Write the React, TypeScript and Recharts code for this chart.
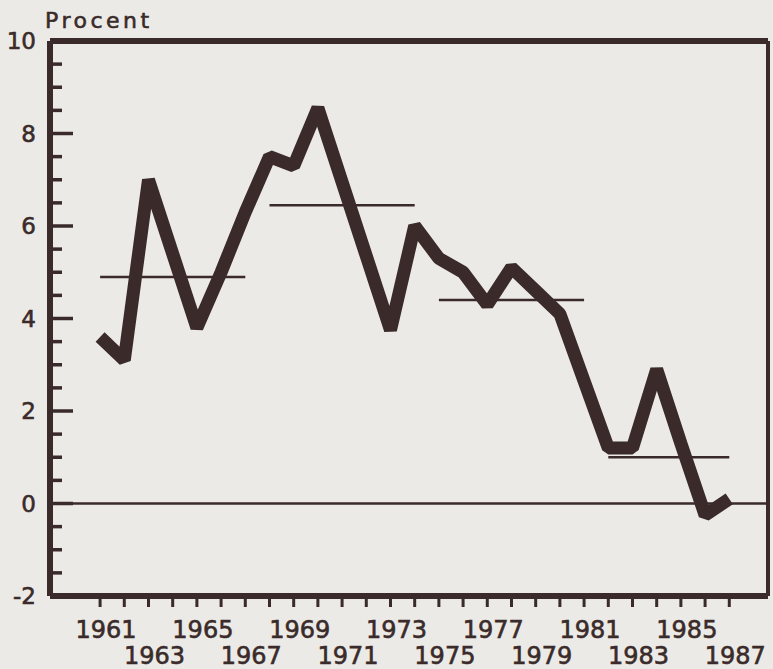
import { LineChart, Line, XAxis, YAxis, ReferenceLine } from 'recharts';

// Arbetslöshet / tillväxt i procent, 1961–1987
const YEARS = [
  1961, 1962, 1963, 1964, 1965, 1966, 1967, 1968, 1969, 1970, 1971, 1972, 1973, 1974,
  1975, 1976, 1977, 1978, 1979, 1980, 1981, 1982, 1983, 1984, 1985, 1986, 1987,
];
const RATE = [
  3.6, 3.1, 7.0, 5.4, 3.8, 5.0, 6.3, 7.5, 7.3, 8.55, 6.95, 5.35, 3.75, 6.0,
  5.3, 5.0, 4.3, 5.1, 4.6, 4.1, 2.65, 1.2, 1.2, 2.9, 1.3, -0.25, 0.1,
];

// period averages (thin horizontal lines)
const PERIOD_START = [1961, 1968, 1975, 1982];
const PERIOD_END = [1967, 1974, 1981, 1987];
const PERIOD_MEAN = [4.9, 6.45, 4.4, 1.0];

const Y_TICKS = [
  -2, -1.5, -1, -0.5, 0, 0.5, 1, 1.5, 2, 2.5, 3, 3.5, 4, 4.5, 5, 5.5,
  6, 6.5, 7, 7.5, 8, 8.5, 9, 9.5, 10,
];

const INK = '#3a2b2a';
const BG = '#ebeae6';
const FONT = '"DejaVu Sans", sans-serif';
const PLOT_LEFT = 50;
const PLOT_BOTTOM = 596;
const X_MIN = 1958.93;
const X_MAX = 1988.6;

const data = YEARS.map((year, i) => ({ year, rate: RATE[i] }));

const textStyle = {
  fill: INK,
  stroke: INK,
  strokeWidth: 0.6,
  fontFamily: FONT,
};

const YTick = ({ y, payload }: any) => {
  const major = payload.value % 2 === 0;
  return (
    <g>
      <line
        x1={PLOT_LEFT}
        x2={PLOT_LEFT + (major ? 23 : 12)}
        y1={y}
        y2={y}
        stroke={INK}
        strokeWidth={3.5}
      />
      {major && (
        <text x={36} y={y} dy="0.36em" textAnchor="end" fontSize={23} {...textStyle}>
          {payload.value}
        </text>
      )}
    </g>
  );
};

const XTick = ({ x, payload }: any) => {
  const year = payload.value;
  const labelled = year % 2 === 1;
  const lower = ((year - 1961) / 2) % 2 === 1;
  return (
    <g>
      <line x1={x} x2={x} y1={PLOT_BOTTOM} y2={PLOT_BOTTOM + 11} stroke={INK} strokeWidth={3} />
      {labelled && (
        <text x={x + 6} y={lower ? 664 : 638} textAnchor="middle" fontSize={24} {...textStyle}>
          {year}
        </text>
      )}
    </g>
  );
};

export default function App() {
  return (
    <div style={{ position: 'absolute', left: 0, top: 0, width: 773, height: 669, background: BG }}>
      <LineChart
        width={773}
        height={669}
        data={data}
        margin={{ top: 41, right: 5, bottom: 0, left: 0 }}
      >
        <XAxis
          dataKey="year"
          type="number"
          domain={[X_MIN, X_MAX]}
          ticks={YEARS}
          interval={0}
          height={73}
          allowDataOverflow
          tickLine={false}
          tick={<XTick />}
          axisLine={{ stroke: INK, strokeWidth: 6 }}
        />
        <YAxis
          type="number"
          domain={[-2, 10]}
          ticks={Y_TICKS}
          interval={0}
          width={PLOT_LEFT}
          allowDataOverflow
          tickLine={false}
          tick={<YTick />}
          axisLine={{ stroke: INK, strokeWidth: 6 }}
          label={{
            content: () => (
              <text x={45} y={28} fontSize={22} letterSpacing={3.5} {...textStyle}>
                Procent
              </text>
            ),
          }}
        />

        <ReferenceLine y={10} stroke={INK} strokeWidth={6} />
        <ReferenceLine x={X_MAX} stroke={INK} strokeWidth={4} />
        <ReferenceLine y={0} stroke={INK} strokeWidth={2.5} />

        {PERIOD_MEAN.map((m, i) => (
          <ReferenceLine
            key={i}
            segment={[
              { x: PERIOD_START[i], y: m },
              { x: PERIOD_END[i], y: m },
            ]}
            stroke={INK}
            strokeWidth={2.5}
          />
        ))}

        <Line
          type="linear"
          dataKey="rate"
          stroke={INK}
          strokeWidth={13}
          strokeLinejoin="bevel"
          strokeLinecap="butt"
          dot={false}
          activeDot={false}
          isAnimationActive={false}
        />
      </LineChart>
    </div>
  );
}
